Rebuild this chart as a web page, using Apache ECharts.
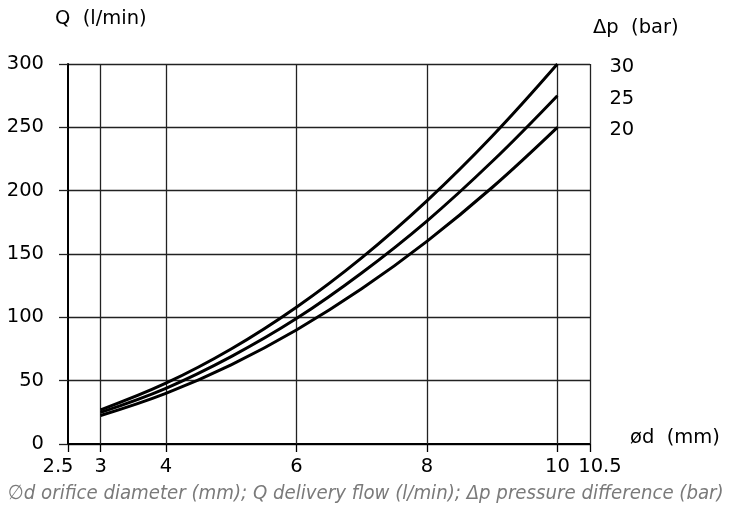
<!DOCTYPE html>
<html><head><meta charset="utf-8">
<script src="https://cdn.jsdelivr.net/npm/echarts@6/dist/echarts.min.js"></script>
<style>html,body{margin:0;padding:0;background:#fff}#c{width:734px;height:516px}</style>
</head><body><div id="c"></div>
<script>
const diameters = [3, 4, 5, 6, 7, 8, 9, 10];
const q30 = [27, 48, 75, 108, 147, 192, 243, 300];
const q25 = [25, 44, 69, 99, 135, 176, 223, 275];
const q20 = [22.5, 40, 62.5, 90, 122.5, 160, 202.5, 250];
const pressureNames = ['30', '25', '20'];
const xTickValues = [2.5, 3, 4, 6, 8, 10, 10.5];
const xGridValues = [3, 4, 6, 8, 10, 10.5];

const FONT = 'DejaVu Sans';
const FS = 19.5;
const chart = echarts.init(document.getElementById('c'), null, {renderer: 'canvas'});
function mk(name, vals) {
  return {
    type: 'line', name: name, data: diameters.map((d, i) => [d, vals[i]]),
    smooth: 0.4, showSymbol: false, symbol: 'none',
    lineStyle: {color: '#000', width: 3}, z: 5,
    endLabel: {show: true, formatter: name, color: '#000', fontFamily: FONT, fontSize: FS, offset: [44, 3], align: 'left'}
  };
}
const series = [mk(pressureNames[0], q30), mk(pressureNames[1], q25), mk(pressureNames[2], q20)];
series.push({
  type: 'line', data: [], silent: true,
  markLine: {silent: true, symbol: 'none', label: {show: false},
    lineStyle: {color: '#222', width: 1.3, type: 'solid'},
    data: xGridValues.map(v => ({xAxis: v}))}
});
chart.setOption({
  animation: false,
  grid: {left: 68, right: 144, top: 64, bottom: 72},
  xAxis: {
    type: 'value', min: 2.5, max: 10.5,
    axisLine: {show: true, onZero: false, lineStyle: {color: '#000', width: 2}},
    axisTick: {show: true, length: 8, customValues: xTickValues, lineStyle: {color: '#000', width: 1.3}},
    axisLabel: {customValues: xTickValues, color: '#000', fontFamily: FONT, fontSize: FS, margin: 13,
      formatter: v => v === 2.5 ? '{l|2.5}' : (v === 10.5 ? '{r|10.5}' : String(v)),
      rich: {l: {fontFamily: FONT, fontSize: FS, color: '#000', padding: [0, 20, 0, 0]},
             r: {fontFamily: FONT, fontSize: FS, color: '#000', padding: [0, 0, 0, 20]}}},
    splitLine: {show: false}
  },
  yAxis: {
    type: 'value', min: 0, max: 300, interval: 50,
    axisLine: {show: true, lineStyle: {color: '#000', width: 2}},
    axisTick: {show: true, length: 9, lineStyle: {color: '#222', width: 1.3}},
    axisLabel: {color: '#000', fontFamily: FONT, fontSize: FS, margin: 24},
    splitLine: {show: true, lineStyle: {color: '#222', width: 1.3}}
  },
  graphic: [
    {type: 'text', left: 55, top: 9, style: {text: 'Q  (l/min)', fill: '#000', font: FS + 'px "DejaVu Sans"'}},
    {type: 'text', left: 593, top: 18, style: {text: 'Δp  (bar)', fill: '#000', font: FS + 'px "DejaVu Sans"'}},
    {type: 'text', left: 630, top: 428, style: {text: 'ød  (mm)', fill: '#000', font: FS + 'px "DejaVu Sans"'}},
    {type: 'text', left: 8, top: 484, style: {text: '∅d orifice diameter (mm); Q delivery flow (l/min); Δp pressure difference (bar)', fill: '#7a7a7a', font: 'italic 20.2px "Liberation Sans Narrow", "DejaVu Sans Condensed", sans-serif'}}
  ],
  series: series
});
</script></body></html>
